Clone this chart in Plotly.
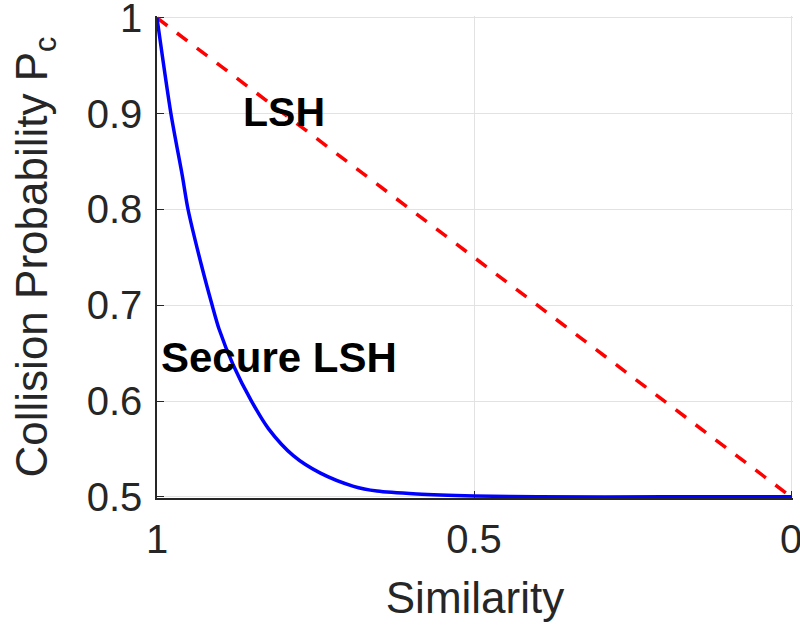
import plotly.graph_objects as go

# Data
similarity_secure = [1.00, 0.978, 0.960, 0.951, 0.930, 0.913, 0.902, 0.880, 0.851,
                     0.824, 0.785, 0.743, 0.690, 0.653, 0.590, 0.50, 0.40, 0.20, 0.00]
prob_secure = [1.000, 0.900, 0.835, 0.800, 0.742, 0.700, 0.675, 0.638, 0.600,
               0.571, 0.543, 0.525, 0.511, 0.506, 0.503, 0.501, 0.500, 0.500, 0.500]

similarity_lsh = [1.0, 0.0]
prob_lsh = [1.0, 0.5]

x_ticks = [1, 0.5, 0]
x_tick_labels = ["1", "0.5", "0"]
y_ticks = [0.5, 0.6, 0.7, 0.8, 0.9, 1.0]
y_tick_labels = ["0.5", "0.6", "0.7", "0.8", "0.9", "1"]

FONT = "Liberation Sans, Arial, Helvetica, sans-serif"
TXT = "#262626"

fig = go.Figure()
fig.add_trace(go.Scatter(x=similarity_lsh, y=prob_lsh, mode="lines",
                         line=dict(color="#ff0000", width=3.5, dash="13px,12px"),
                         showlegend=False, hoverinfo="skip"))
fig.add_trace(go.Scatter(x=similarity_secure, y=prob_secure, mode="lines",
                         line=dict(color="#0000ff", width=3.5, shape="spline", smoothing=0.8),
                         showlegend=False, hoverinfo="skip"))

fig.add_annotation(x=0.868, y=0.902, xref="x", yref="y", text="<b>LSH</b>",
                   showarrow=False, xanchor="left", yanchor="middle",
                   font=dict(family=FONT, size=41, color="#000000"))
fig.add_annotation(x=0.997, y=0.6458, xref="x", yref="y", text="<b>Secure LSH</b>",
                   showarrow=False, xanchor="left", yanchor="middle",
                   font=dict(family=FONT, size=42, color="#000000"))

fig.update_layout(
    width=800, height=625,
    margin=dict(l=157, r=7, t=16, b=127),
    paper_bgcolor="white", plot_bgcolor="white",
    font=dict(family=FONT, color=TXT),
    xaxis=dict(range=[1, -0.003], tickmode="array", tickvals=x_ticks, ticktext=x_tick_labels,
               ticks="inside", ticklen=7, tickcolor=TXT, tickwidth=1,
               showline=True, linecolor=TXT, linewidth=1.5,
               showgrid=True, gridcolor="#e2e2e2", gridwidth=1, zeroline=False,
               tickfont=dict(size=40, color=TXT, family=FONT), ticklabelstandoff=5,
               ticklabeloverflow="allow", automargin=False,
               title=dict(text="Similarity", font=dict(size=44, color=TXT, family=FONT), standoff=22),
               layer="below traces"),
    yaxis=dict(range=[0.4988, 1.002], tickmode="array", tickvals=y_ticks, ticktext=y_tick_labels,
               ticks="inside", ticklen=7, tickcolor=TXT, tickwidth=1,
               showline=True, linecolor=TXT, linewidth=1.5,
               showgrid=True, gridcolor="#e2e2e2", gridwidth=1, zeroline=False,
               tickfont=dict(size=40, color=TXT, family=FONT), ticklabelstandoff=5,
               ticklabeloverflow="allow", automargin=False,
               title=dict(text="Collision Probability P<sub>c</sub>",
                          font=dict(size=44, color=TXT, family=FONT), standoff=25),
               layer="below traces"),
)

fig.write_html("out.html")
